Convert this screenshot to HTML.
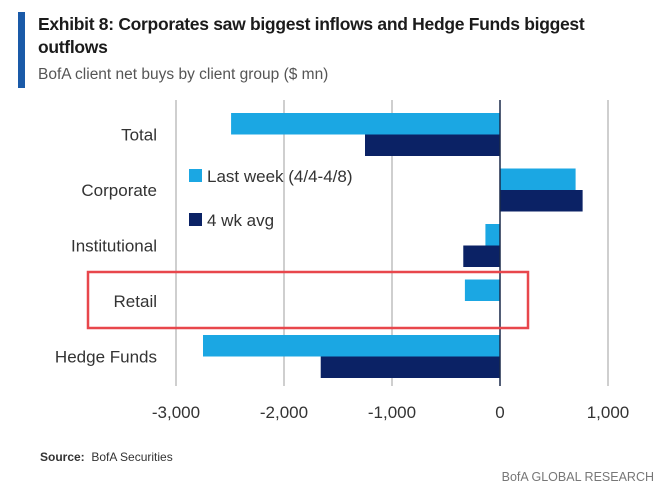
<!DOCTYPE html>
<html><head><meta charset="utf-8"><style>
body{margin:0;background:#fff;font-family:"Liberation Sans",sans-serif;}
#wrap{position:relative;width:668px;height:490px;overflow:hidden}
</style></head><body>
<div id="wrap">
<div style="position:absolute;left:18px;top:12px;width:7px;height:76px;background:#1a5aa8"></div>
<div style="position:absolute;left:38px;top:13px;width:620px;font-weight:bold;font-size:17.5px;line-height:23px;color:#1b1b1b;letter-spacing:-0.3px">Exhibit 8: Corporates saw biggest inflows and Hedge Funds biggest outflows</div>
<div style="position:absolute;left:38px;top:66px;font-size:15.5px;color:#555">BofA client net buys by client group ($ mn)</div>
<svg id="chart" width="668" height="490" style="position:absolute;left:0;top:0"></svg>
<div style="position:absolute;left:40px;top:450px;font-size:12px;color:#333"><b>Source:</b>&nbsp; BofA Securities</div>
<div style="position:absolute;right:14px;top:470px;font-size:12.5px;color:#777">BofA GLOBAL RESEARCH</div>
</div>
<script>
const categories=["Total","Corporate","Institutional","Retail","Hedge Funds"];
const lastWeek=[-2490,700,-135,-325,-2750];
const fourWkAvg=[-1250,765,-340,-5,-1660];
const ticks=[-3000,-2000,-1000,0,1000];
const tickLabels=["-3,000","-2,000","-1,000","0","1,000"];
const svg=document.getElementById('chart');
const NS="http://www.w3.org/2000/svg";
const x=v=>500+v*0.108;
const groupTop=i=>113+i*55.5;
const bh=21.5;
function mk(t,a){const e=document.createElementNS(NS,t);for(const k in a)e.setAttribute(k,a[k]);svg.appendChild(e);return e;}
ticks.forEach((t,i)=>{
 if(t!==0){const g=mk('line',{x1:x(t),x2:x(t),y1:100,y2:386,stroke:'#b5b5b5','stroke-width':1.3});
 
 }
 const l=mk('text',{x:x(t),y:418,'text-anchor':'middle','font-size':17,fill:'#333'});
 l.textContent=tickLabels[i];
 
 
});
categories.forEach((c,i)=>{
 const y0=groupTop(i);
 const v1=lastWeek[i],v2=fourWkAvg[i];
 const r1=mk('rect',{x:Math.min(x(0),x(v1)),y:y0,width:Math.max(1,Math.abs(x(v1)-x(0))),height:bh,fill:'#1ba7e3'});
 
 
 const r2=mk('rect',{x:Math.min(x(0),x(v2)),y:y0+bh,width:Math.max(1,Math.abs(x(v2)-x(0))),height:bh,fill:'#0b2265'});
 
 
 const t=mk('text',{x:157,y:y0+bh+6,'text-anchor':'end','font-size':17,fill:'#333'});
 t.textContent=c;
 
 
});
const z=mk('line',{x1:x(0),x2:x(0),y1:100,y2:386,stroke:'#1b2a4a','stroke-width':1.5});


const box=mk('rect',{x:88,y:272,width:440,height:56,fill:'none',stroke:'#e8474c','stroke-width':2.5});


[["Last week (4/4-4/8)",'#1ba7e3',169],["4 wk avg",'#0b2265',213]].forEach(d=>{
 const s=mk('rect',{x:189,y:d[2],width:13,height:13,fill:d[1]});
 
 
 const t=mk('text',{x:207,y:d[2]+13,'font-size':17,fill:'#333'});
 t.textContent=d[0];
 
 
});
</script>
</body></html>
